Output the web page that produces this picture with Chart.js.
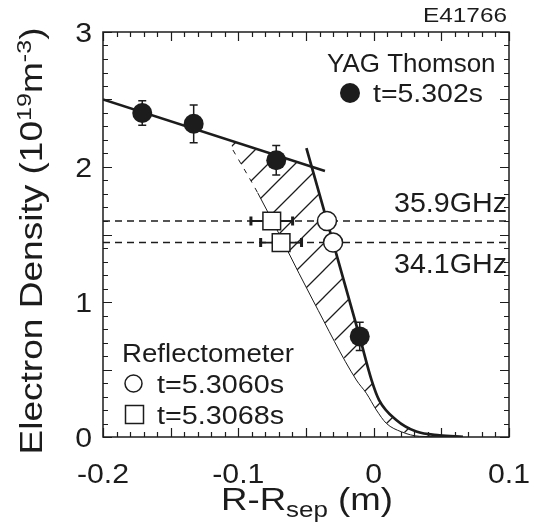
<!DOCTYPE html>
<html>
<head>
<meta charset="utf-8">
<script src="https://cdn.jsdelivr.net/npm/chart.js@4/dist/chart.umd.min.js"></script>
<style>
html, body { margin: 0; padding: 0; background: #fff; }
#wrap { width: 541px; height: 525px; position: relative; }
</style>
</head>
<body>
<div id="wrap"><canvas id="grafico"></canvas></div>
<script>
// YAG Thomson, t=5.302s (puntos negros con barras de error en y)
var yagX = [-0.171, -0.133, -0.072, -0.0103];
var yagY = [2.40, 2.32, 2.05, 0.745];
var yagErr = [0.09, 0.14, 0.11, 0.105];

// Reflectometro
var reflCircX = [-0.0345, -0.030];       // t=5.3060s
var reflCircY = [1.60, 1.44];
var reflSqX = [-0.0753, -0.0684];        // t=5.3068s
var reflSqY = [1.60, 1.44];
var reflSqErr = [0.0154, 0.0151];

// densidades de corte
var cutoffY = [1.60, 1.44];
var cutoffLabels = ['35.9GHz', '34.1GHz'];

// ajuste lineal del pedestal
var fitX = [-0.2, -0.036];
var fitY = [2.50, 1.97];

// perfiles del borde (linea gruesa y linea fina)
var thickX = [-0.0497, -0.0103, -0.0015, 0.0040, 0.0167, 0.0315, 0.0487, 0.066];
var thickY = [2.14, 0.74, 0.42, 0.274, 0.126, 0.040, 0.012, 0.002];
var thinX = [-0.104, -0.0856, -0.045, -0.0128, -0.0054, 0.0020, 0.0094, 0.0204, 0.034, 0.066];
var thinY = [2.126, 1.807, 1.015, 0.422, 0.324, 0.200, 0.101, 0.039, 0.005, 0.0];

// esquina superior de la zona rayada (sobre la recta de ajuste)
var hatchTopX = [-0.106, -0.0458];
var hatchTopY = [2.196, 2.002];

var legendYag = ['YAG Thomson', 't=5.302s'];
var legendRefl = ['Reflectometer', 't=5.3060s', 't=5.3068s'];
var shotLabel = 'E41766';

var INK = '#1c1c1c';
var FONT = '"Liberation Sans", Arial, Helvetica, sans-serif';

function pts(xs, ys) {
    return xs.map(function(x, i) { return { x: x, y: ys[i] }; });
}

//patron de rayado diagonal
function hatchPattern() {
    var s = 27;
    var c = document.createElement('canvas');
    c.width = s; c.height = s;
    var g = c.getContext('2d');
    g.strokeStyle = INK;
    g.lineWidth = 1.3;
    g.beginPath();
    g.moveTo(-2, s + 2); g.lineTo(s + 2, -2);
    g.moveTo(-2, 2); g.lineTo(2, -2);
    g.moveTo(s - 2, s + 2); g.lineTo(s + 2, s - 2);
    g.stroke();
    return document.getElementById('grafico').getContext('2d').createPattern(c, 'repeat');
}

//texto con tramos (superindices / subindices) y estirado horizontal
function drawRuns(ctx, runs, x, y, o) {
    ctx.save();
    var natural = 0;
    runs.forEach(function(r) {
        ctx.font = r.size + 'px ' + FONT;
        r.w = ctx.measureText(r.t).width;
        natural += r.w;
    });
    var sx = o.width ? o.width / natural : (o.stretch || 1);
    var total = natural * sx;
    ctx.translate(x, y);
    if (o.rotate) ctx.rotate(o.rotate);
    var start = o.align === 'right' ? -total : (o.align === 'center' ? -total / 2 : 0);
    ctx.translate(start, 0);
    ctx.scale(sx, 1);
    ctx.fillStyle = INK;
    ctx.textAlign = 'left';
    ctx.textBaseline = 'alphabetic';
    var cx = 0;
    runs.forEach(function(r) {
        ctx.font = r.size + 'px ' + FONT;
        ctx.fillText(r.t, cx, r.dy || 0);
        cx += r.w;
    });
    ctx.restore();
}

var hatchData = pts(hatchTopX, hatchTopY)
    .concat(pts(thickX, thickY).slice(1))
    .concat(pts(thinX, thinY).reverse());

var errorBars = {
    id: 'errorBars',
    beforeDatasetDraw: function(chart, args) {
        var ctx = chart.ctx, xs = chart.scales.x, ys = chart.scales.y;
        ctx.save();
        ctx.strokeStyle = INK;
        if (args.index === 0) {
            ctx.lineWidth = 1.5;
            yagX.forEach(function(x, i) {
                var px = xs.getPixelForValue(x);
                var t = ys.getPixelForValue(yagY[i] + yagErr[i]);
                var b = ys.getPixelForValue(yagY[i] - yagErr[i]);
                ctx.beginPath();
                ctx.moveTo(px, t); ctx.lineTo(px, b);
                ctx.moveTo(px - 4, t); ctx.lineTo(px + 4, t);
                ctx.moveTo(px - 4, b); ctx.lineTo(px + 4, b);
                ctx.stroke();
            });
        }
        if (args.index === 2) {
            reflSqX.forEach(function(x, i) {
                var py = ys.getPixelForValue(reflSqY[i]);
                var l = xs.getPixelForValue(x - reflSqErr[i]);
                var r = xs.getPixelForValue(x + reflSqErr[i]);
                ctx.lineWidth = 1.8;
                ctx.beginPath();
                ctx.moveTo(l, py); ctx.lineTo(r, py);
                ctx.stroke();
                ctx.lineWidth = 3;
                ctx.beginPath();
                ctx.moveTo(l, py - 4.5); ctx.lineTo(l, py + 4.5);
                ctx.moveTo(r, py - 4.5); ctx.lineTo(r, py + 4.5);
                ctx.stroke();
            });
        }
        ctx.restore();
    }
};

//marco, marcas hacia dentro, etiquetas y leyendas
var decoraciones = {
    id: 'decoraciones',
    afterDatasetsDraw: function(chart) {
        var ctx = chart.ctx, a = chart.chartArea, xs = chart.scales.x, ys = chart.scales.y;
        ctx.save();
        ctx.strokeStyle = INK;
        ctx.lineWidth = 1.5;
        ctx.strokeRect(a.left, a.top, a.right - a.left, a.bottom - a.top);
        ctx.lineWidth = 1.2;
        ctx.beginPath();
        for (var k = 0; k <= 30; k++) {
            var v = -0.2 + k * 0.01;
            var px = Math.round(xs.getPixelForValue(v)) + 0.5;
            var len = (k % 5 === 0) ? 9 : 5;
            ctx.moveTo(px, a.bottom); ctx.lineTo(px, a.bottom - len);
            ctx.moveTo(px, a.top); ctx.lineTo(px, a.top + len);
        }
        for (var j = 0; j <= 30; j++) {
            var py = Math.round(ys.getPixelForValue(j * 0.1)) + 0.5;
            var len2 = (j % 5 === 0) ? 9 : 5;
            ctx.moveTo(a.left, py); ctx.lineTo(a.left + len2, py);
            ctx.moveTo(a.right, py); ctx.lineTo(a.right - len2, py);
        }
        ctx.stroke();

        // etiquetas de los ejes
        xs.ticks.forEach(function(t) {
            drawRuns(ctx, [{ t: t.label, size: 28 }], xs.getPixelForValue(t.value), a.bottom + 46, { align: 'center', stretch: 1.08 });
        });
        ys.ticks.forEach(function(t) {
            drawRuns(ctx, [{ t: t.label, size: 28 }], a.left - 11, ys.getPixelForValue(t.value) + 10, { align: 'right', stretch: 1.08 });
        });

        // titulos de los ejes
        drawRuns(ctx, [
            { t: 'R-R', size: 31 },
            { t: 'sep', size: 22, dy: 7 },
            { t: ' (m)', size: 31 }
        ], 221, 510, { width: 172 });
        drawRuns(ctx, [
            { t: 'Electron Density (10', size: 31 },
            { t: '19', size: 21, dy: -11 },
            { t: 'm', size: 31 },
            { t: '-3', size: 21, dy: -11 },
            { t: ')', size: 31 }
        ], 42, 241, { rotate: -Math.PI / 2, align: 'center', width: 427 });

        // numero de descarga y etiquetas de frecuencia
        drawRuns(ctx, [{ t: shotLabel, size: 21 }], 507, 22, { align: 'right', width: 84 });
        drawRuns(ctx, [{ t: cutoffLabels[0], size: 28 }], 394, 212, { width: 113 });
        drawRuns(ctx, [{ t: cutoffLabels[1], size: 28 }], 394, 273, { width: 113 });

        // leyendas
        drawRuns(ctx, [{ t: legendYag[0], size: 26 }], 327, 72, {});
        drawRuns(ctx, [{ t: legendYag[1], size: 25 }], 373, 102, { width: 110 });
        ctx.fillStyle = INK;
        ctx.beginPath(); ctx.arc(350, 93, 10, 0, Math.PI * 2); ctx.fill();

        drawRuns(ctx, [{ t: legendRefl[0], size: 26 }], 122, 362, { width: 172 });
        drawRuns(ctx, [{ t: legendRefl[1], size: 26 }], 157, 393, { width: 127 });
        drawRuns(ctx, [{ t: legendRefl[2], size: 26 }], 157, 424, { width: 127 });
        ctx.lineWidth = 1.5;
        ctx.fillStyle = '#fff';
        ctx.beginPath(); ctx.arc(133.5, 383.5, 8.5, 0, Math.PI * 2); ctx.fill(); ctx.stroke();
        ctx.beginPath(); ctx.rect(125.5, 405.5, 18, 18); ctx.fill(); ctx.stroke();
        ctx.restore();
    }
};

//etiquetas tipo "-0.1", "0", "0.1"
function tickLabel(v) {
    return String(Number(v.toFixed(2)));
}

var ctx = document.getElementById('grafico').getContext('2d');
var grafico = new Chart(ctx, {
    type: 'scatter',
    data: {
        datasets: [
            {
                label: legendYag[1],
                data: pts(yagX, yagY),
                pointRadius: 10,
                backgroundColor: INK,
                borderWidth: 0,
                order: 0
            },
            {
                label: legendRefl[1],
                data: pts(reflCircX, reflCircY),
                pointRadius: 9.5,
                backgroundColor: '#fff',
                borderColor: INK,
                borderWidth: 1.5,
                order: 0
            },
            {
                label: legendRefl[2],
                data: pts(reflSqX, reflSqY),
                pointStyle: 'rect',
                pointRadius: 12.5,
                backgroundColor: '#fff',
                borderColor: INK,
                borderWidth: 1.5,
                order: 0
            },
            {
                label: 'ajuste',
                data: pts(fitX, fitY),
                showLine: true,
                pointRadius: 0,
                borderColor: INK,
                borderWidth: 2.5,
                order: 3
            },
            {
                label: 'perfil grueso',
                data: pts(thickX, thickY),
                showLine: true,
                pointRadius: 0,
                borderColor: INK,
                borderWidth: 2.7,
                cubicInterpolationMode: 'monotone',
                order: 3
            },
            {
                label: 'perfil fino',
                data: pts(thinX, thinY),
                showLine: true,
                pointRadius: 0,
                borderColor: INK,
                borderWidth: 1,
                cubicInterpolationMode: 'monotone',
                segment: {
                    borderDash: function(c) { return c.p0DataIndex === 0 ? [5, 6] : undefined; }
                },
                order: 3
            },
            {
                label: cutoffLabels[0],
                data: [{ x: -0.2, y: cutoffY[0] }, { x: 0.1, y: cutoffY[0] }],
                showLine: true,
                pointRadius: 0,
                borderColor: INK,
                borderWidth: 1.5,
                borderDash: [7, 5],
                order: 5
            },
            {
                label: cutoffLabels[1],
                data: [{ x: -0.2, y: cutoffY[1] }, { x: 0.1, y: cutoffY[1] }],
                showLine: true,
                pointRadius: 0,
                borderColor: INK,
                borderWidth: 1.5,
                borderDash: [7, 5],
                order: 5
            },
            {
                label: 'zona rayada',
                data: hatchData,
                showLine: true,
                pointRadius: 0,
                borderWidth: 0,
                borderColor: 'rgba(0,0,0,0)',
                backgroundColor: hatchPattern(),
                fill: 'shape',
                order: 8
            }
        ]
    },
    options: {
        animation: false,
        responsive: true,
        maintainAspectRatio: false,
        layout: { padding: { top: 32, right: 32, left: 0, bottom: 0 } },
        plugins: {
            legend: { display: false },
            tooltip: { enabled: false }
        },
        scales: {
            x: {
                type: 'linear',
                min: -0.2,
                max: 0.1,
                ticks: { stepSize: 0.1, display: false, callback: tickLabel },
                grid: { display: false },
                border: { display: false },
                afterFit: function(s) { s.height = 88; }
            },
            y: {
                type: 'linear',
                min: 0,
                max: 3,
                ticks: { stepSize: 1, display: false, callback: tickLabel },
                grid: { display: false },
                border: { display: false },
                afterFit: function(s) { s.width = 103; }
            }
        }
    },
    plugins: [errorBars, decoraciones]
});
</script>
</body>
</html>
